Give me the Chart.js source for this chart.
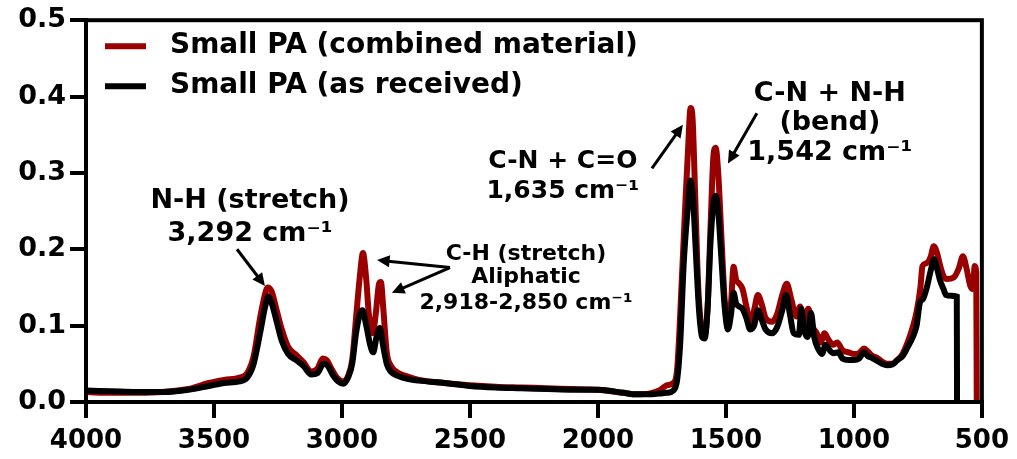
<!DOCTYPE html>
<html>
<head>
<meta charset="utf-8">
<script src="https://cdn.jsdelivr.net/npm/chart.js@4/dist/chart.umd.min.js"></script>
<style>
  html, body { margin: 0; padding: 0; background: #fff; }
  #wrap { width: 1017px; height: 459px; }
</style>
</head>
<body>
<div id="wrap"><canvas id="spectre" width="1017" height="459"></canvas></div>
<script>
// spectres FTIR (nombre d'onde en cm-1, absorbance)

var labelRouge = 'Small PA (combined material)';
var labelNoir = 'Small PA (as received)';

var wnRouge = [4000, 3900, 3800, 3700, 3600, 3520, 3460, 3400, 3370, 3345, 3320, 3300, 3290, 3275, 3255, 3235, 3210, 3180, 3150, 3120, 3095, 3075, 3060, 3040, 3020, 2995, 2975, 2960, 2945, 2930, 2918, 2905, 2895, 2880, 2868, 2855, 2848, 2838, 2825, 2810, 2780, 2740, 2700, 2600, 2500, 2400, 2300, 2200, 2100, 2000, 1900, 1850, 1800, 1760, 1730, 1705, 1690, 1675, 1660, 1648, 1638, 1630, 1620, 1608, 1595, 1585, 1572, 1560, 1548, 1540, 1530, 1518, 1505, 1492, 1480, 1470, 1460, 1448, 1435, 1420, 1405, 1390, 1375, 1360, 1345, 1320, 1300, 1280, 1262, 1245, 1225, 1210, 1195, 1178, 1160, 1145, 1130, 1115, 1100, 1080, 1065, 1045, 1020, 1000, 980, 960, 945, 930, 910, 890, 870, 850, 830, 810, 790, 770, 755, 740, 732, 715, 700, 688, 675, 664, 650, 637, 610, 590, 574, 560, 545, 535, 528, 522, 520];
var absRouge = [0.013, 0.012, 0.012, 0.013, 0.017, 0.025, 0.029, 0.032, 0.038, 0.06, 0.11, 0.142, 0.15, 0.145, 0.12, 0.095, 0.072, 0.062, 0.052, 0.04, 0.044, 0.057, 0.055, 0.043, 0.032, 0.027, 0.035, 0.055, 0.11, 0.165, 0.195, 0.16, 0.115, 0.09, 0.115, 0.155, 0.157, 0.12, 0.065, 0.048, 0.038, 0.033, 0.029, 0.025, 0.022, 0.02, 0.019, 0.018, 0.017, 0.016, 0.012, 0.01, 0.011, 0.015, 0.022, 0.025, 0.045, 0.14, 0.25, 0.33, 0.385, 0.37, 0.27, 0.15, 0.095, 0.085, 0.12, 0.23, 0.325, 0.333, 0.3, 0.22, 0.135, 0.1, 0.13, 0.177, 0.16, 0.155, 0.148, 0.125, 0.105, 0.12, 0.14, 0.128, 0.11, 0.105, 0.115, 0.14, 0.155, 0.135, 0.112, 0.125, 0.105, 0.122, 0.098, 0.09, 0.078, 0.09, 0.082, 0.075, 0.078, 0.068, 0.065, 0.063, 0.064, 0.07, 0.066, 0.061, 0.058, 0.053, 0.05, 0.05, 0.055, 0.063, 0.078, 0.098, 0.118, 0.15, 0.178, 0.182, 0.19, 0.204, 0.195, 0.18, 0.165, 0.161, 0.163, 0.175, 0.191, 0.175, 0.152, 0.148, 0.178, 0.17, 0];

var wnNoir = [4000, 3900, 3800, 3700, 3600, 3520, 3460, 3400, 3370, 3345, 3320, 3300, 3288, 3275, 3255, 3235, 3210, 3180, 3150, 3120, 3095, 3072, 3055, 3035, 3015, 2995, 2975, 2960, 2945, 2930, 2920, 2905, 2890, 2878, 2865, 2852, 2840, 2825, 2810, 2780, 2740, 2700, 2600, 2500, 2400, 2300, 2200, 2100, 2000, 1900, 1850, 1800, 1760, 1730, 1705, 1690, 1678, 1665, 1650, 1638, 1628, 1618, 1605, 1593, 1583, 1572, 1560, 1548, 1540, 1530, 1518, 1505, 1492, 1480, 1470, 1460, 1448, 1435, 1420, 1405, 1390, 1375, 1360, 1345, 1320, 1300, 1280, 1265, 1250, 1235, 1215, 1205, 1195, 1180, 1168, 1155, 1140, 1125, 1110, 1095, 1080, 1060, 1045, 1020, 1000, 980, 960, 945, 930, 910, 890, 870, 850, 830, 810, 790, 770, 755, 742, 730, 715, 700, 686, 675, 664, 650, 640, 620, 598, 597];
var absNoir = [0.015, 0.014, 0.013, 0.013, 0.016, 0.021, 0.025, 0.027, 0.032, 0.05, 0.09, 0.125, 0.138, 0.13, 0.105, 0.08, 0.063, 0.055, 0.047, 0.036, 0.038, 0.05, 0.047, 0.035, 0.027, 0.024, 0.033, 0.05, 0.09, 0.115, 0.12, 0.1, 0.075, 0.065, 0.085, 0.097, 0.075, 0.05, 0.04, 0.034, 0.03, 0.028, 0.025, 0.021, 0.019, 0.018, 0.017, 0.016, 0.016, 0.012, 0.01, 0.01, 0.011, 0.012, 0.015, 0.03, 0.08, 0.18, 0.25, 0.29, 0.265, 0.2, 0.12, 0.085, 0.083, 0.12, 0.21, 0.262, 0.27, 0.25, 0.19, 0.125, 0.095, 0.115, 0.143, 0.129, 0.125, 0.122, 0.11, 0.095, 0.1, 0.12, 0.108, 0.095, 0.09, 0.098, 0.12, 0.14, 0.115, 0.09, 0.088, 0.122, 0.095, 0.085, 0.117, 0.085, 0.07, 0.063, 0.075, 0.068, 0.064, 0.065, 0.057, 0.055, 0.055, 0.057, 0.065, 0.06, 0.058, 0.054, 0.05, 0.048, 0.049, 0.055, 0.06, 0.072, 0.085, 0.1, 0.13, 0.135, 0.15, 0.172, 0.187, 0.175, 0.16, 0.148, 0.14, 0.139, 0.138, 0];

var ticksX = [4000, 3500, 3000, 2500, 2000, 1500, 1000, 500];
var ticksY = [0, 0.1, 0.2, 0.3, 0.4, 0.5];

// annotations des pics : texte [lignes], position (cm-1, absorbance), fleches
var annotations = [
  { lignes: ['N-H (stretch)', '3,292 cm\u207B\u00B9'], wn: 3359, y: [0.263, 0.22], taille: 27,
    fleches: [[3410, 0.2, 3301, 0.152]] },
  { lignes: ['C-H (stretch)', 'Aliphatic', '2,918-2,850 cm\u207B\u00B9'], wn: 2281, y: [0.194, 0.163, 0.129], taille: 22,
    fleches: [[2578, 0.176, 2863, 0.186], [2578, 0.176, 2805, 0.143]] },
  { lignes: ['C-N + C=O', '1,635 cm\u207B\u00B9'], wn: 2137, y: [0.315, 0.276], taille: 25,
    fleches: [[1789, 0.306, 1668, 0.363]] },
  { lignes: ['C-N + N-H', '(bend)', '1,542 cm\u207B\u00B9'], wn: 1094, y: [0.404, 0.365, 0.326], taille: 27,
    fleches: [[1379, 0.378, 1492, 0.3125]] }
];

var police = '"DejaVu Sans", Verdana, sans-serif';
var rouge = '#990000';

function points(xs, ys) {
  return xs.map(function (x, i) { return { x: x, y: ys[i] }; });
}

function fleche(ctx, x1, y1, x2, y2) {
  var ang = Math.atan2(y2 - y1, x2 - x1);
  var tete = 14;
  ctx.beginPath();
  ctx.moveTo(x1, y1);
  ctx.lineTo(x2 - Math.cos(ang) * tete * 0.8, y2 - Math.sin(ang) * tete * 0.8);
  ctx.stroke();
  ctx.beginPath();
  ctx.moveTo(x2, y2);
  ctx.lineTo(x2 - tete * Math.cos(ang - 0.45), y2 - tete * Math.sin(ang - 0.45));
  ctx.lineTo(x2 - tete * Math.cos(ang + 0.45), y2 - tete * Math.sin(ang + 0.45));
  ctx.closePath();
  ctx.fill();
}

// cadre + legende + annotations dessines apres le graphe
var decor = {
  id: 'decor',
  afterDraw: function (chart) {
    var ctx = chart.ctx;
    var a = chart.chartArea;
    var sx = chart.scales.x, sy = chart.scales.y;
    ctx.save();
    ctx.strokeStyle = '#000';
    ctx.lineWidth = 4;
    ctx.strokeRect(a.left, a.top, a.right - a.left, a.bottom - a.top);

    // legende
    var items = chart.data.datasets;
    ctx.font = 'bold 28px ' + police;
    ctx.textBaseline = 'middle';
    items.forEach(function (ds, i) {
      var y = a.top + 26 + i * 40;
      ctx.strokeStyle = ds.borderColor;
      ctx.lineWidth = 6;
      ctx.beginPath();
      ctx.moveTo(a.left + 19, y);
      ctx.lineTo(a.left + 60, y);
      ctx.stroke();
      ctx.fillStyle = '#000';
      ctx.textAlign = 'left';
      ctx.fillText(ds.label, a.left + 84, y);
    });

    // annotations
    ctx.fillStyle = '#000';
    ctx.strokeStyle = '#000';
    ctx.lineWidth = 3;
    annotations.forEach(function (an) {
      ctx.font = 'bold ' + an.taille + 'px ' + police;
      ctx.textAlign = 'center';
      an.lignes.forEach(function (t, k) {
        ctx.fillText(t, sx.getPixelForValue(an.wn), sy.getPixelForValue(an.y[k]));
      });
      an.fleches.forEach(function (f) {
        fleche(ctx, sx.getPixelForValue(f[0]), sy.getPixelForValue(f[1]),
          sx.getPixelForValue(f[2]), sy.getPixelForValue(f[3]));
      });
    });
    ctx.restore();
  }
};

var ctx = document.getElementById('spectre').getContext('2d');

var monGraphe = new Chart(ctx, {
  type: 'line',
  data: {
    datasets: [{
      label: labelRouge,
      data: points(wnRouge, absRouge),
      borderColor: rouge,
      borderWidth: 6,
      pointRadius: 0,
      cubicInterpolationMode: 'monotone',
      order: 2
    }, {
      label: labelNoir,
      data: points(wnNoir, absNoir),
      borderColor: '#000',
      borderWidth: 6,
      pointRadius: 0,
      cubicInterpolationMode: 'monotone',
      order: 1
    }]
  },
  options: {
    responsive: false,
    animation: false,
    layout: { padding: { top: 18, right: 35, left: 0, bottom: 0 } },
    plugins: { legend: { display: false }, tooltip: { enabled: false } },
    scales: {
      x: {
        type: 'linear',
        reverse: true,
        min: 500,
        max: 4000,
        afterBuildTicks: function (s) { s.ticks = ticksX.map(function (v) { return { value: v }; }); },
        afterFit: function (s) { s.height = 57; },
        ticks: {
          color: '#000',
          font: { family: police, weight: 'bold', size: 26 },
          padding: 8,
          maxRotation: 0,
          callback: function (v) { return String(v); }
        },
        grid: { drawOnChartArea: false, drawTicks: true, tickLength: 16, lineWidth: 4, color: '#000' },
        border: { width: 4, color: '#000' }
      },
      y: {
        min: 0,
        max: 0.5,
        afterBuildTicks: function (s) { s.ticks = ticksY.map(function (v) { return { value: v }; }); },
        afterFit: function (s) { s.width = 86; },
        ticks: {
          color: '#000',
          font: { family: police, weight: 'bold', size: 27 },
          padding: 4,
          callback: function (v) { return v.toFixed(1); }
        },
        grid: { drawOnChartArea: false, drawTicks: true, tickLength: 16, lineWidth: 4, color: '#000' },
        border: { width: 4, color: '#000' }
      }
    }
  },
  plugins: [decor]
});
</script>
</body>
</html>
